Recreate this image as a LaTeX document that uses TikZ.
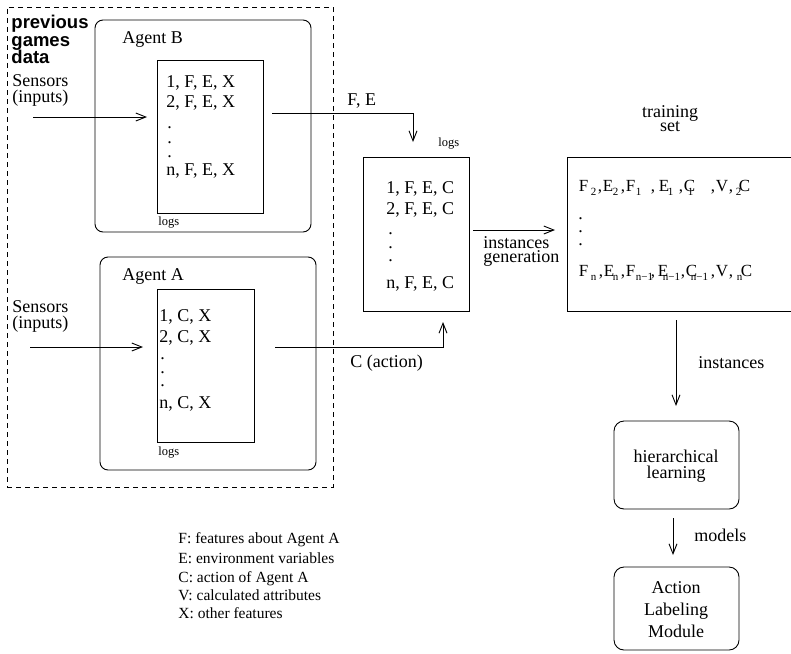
\documentclass[tikz,border=0pt]{standalone}
\usepackage{fontspec}
\setmainfont{Liberation Serif}
\newfontfamily\hvfont{Liberation Sans}
\usetikzlibrary{arrows.meta}
\newcommand\glat[2]{\rlap{\hspace*{#1pt}#2}}
\newcommand\sbx[1]{\raisebox{-4pt}{\fontsize{11}{11}\selectfont #1}}
\newcommand\threedots[2]{\rlap{.}\raisebox{-#1pt}{\rlap{.}}\raisebox{-#2pt}{.}}
\begin{document}
\begin{tikzpicture}[x=1pt,y=-1pt,line width=0.9pt,
  txt/.style={anchor=base west,inner sep=0pt,font=\fontsize{18}{18}\selectfont},
  ctxt/.style={anchor=base,inner sep=0pt,font=\fontsize{18}{18}\selectfont},
  smalltxt/.style={anchor=base west,inner sep=0pt,font=\fontsize{12.5}{12.5}\selectfont},
  legtxt/.style={anchor=base west,inner sep=0pt,font=\fontsize{15.5}{15.5}\selectfont},
  headtxt/.style={anchor=base west,inner sep=0pt,font=\hvfont\bfseries\fontsize{18.5}{18.5}\selectfont},
  rbox/.style={draw,rounded corners=#1,inner sep=0pt},
  sbox/.style={draw,inner sep=0pt},
  arr/.style={-{Straight Barb[length=10pt,width=8pt]}}]
\useasboundingbox (0,0) rectangle (791,653);

% outer dashed region
\node[draw,dash pattern=on 5pt off 4pt,inner sep=0pt,minimum width=326pt,minimum height=480pt] (prev) at (170,247) {};
\node[headtxt] (h1) at (11,28) {previous};
\node[headtxt] (h2) at (11,46) {games};
\node[headtxt] (h3) at (11,63) {data};

% Agent B
\node[rbox=8pt,minimum width=216pt,minimum height=212pt] (agentB) at (203,126) {};
\node[txt] (labB) at (122,43) {Agent B};
\node[sbox,minimum width=106pt,minimum height=153pt] (logsB) at (210,136.5) {};
\node[txt] (b1) at (166,87) {1, F, E, X};
\node[txt] (b2) at (166,107) {2, F, E, X};
\node[txt] (bd) at (167,128) {\threedots{15}{29}};
\node[txt] (bn) at (166,175) {n, F, E, X};
\node[smalltxt] (lgB) at (158,225) {logs};
\node[txt] (sensB1) at (12,86) {Sensors};
\node[txt] (sensB2) at (12,102) {(inputs)};

% Agent A
\node[rbox=8pt,minimum width=216pt,minimum height=213pt] (agentA) at (208,363.5) {};
\node[txt] (labA) at (122,280) {Agent A};
\node[sbox,minimum width=97pt,minimum height=153pt] (logsA) at (205.5,365.5) {};
\node[txt] (a1) at (159,321) {1, C, X};
\node[txt] (a2) at (159,342) {2, C, X};
\node[txt] (ad) at (160,359) {\threedots{14}{27}};
\node[txt] (an) at (159,408) {n, C, X};
\node[smalltxt] (lgA) at (158,455) {logs};
\node[txt] (sensA1) at (12,312) {Sensors};
\node[txt] (sensA2) at (12,328) {(inputs)};

% merged logs
\node[sbox,minimum width=106pt,minimum height=154pt] (logsM) at (416,234) {};
\node[smalltxt] (lgM) at (438,146) {logs};
\node[txt] (m1) at (386,193) {1, F, E, C};
\node[txt] (m2) at (386,214) {2, F, E, C};
\node[txt] (md) at (388,234) {\threedots{14}{27}};
\node[txt] (mn) at (386,288) {n, F, E, C};

% training set (open on the right)
\coordinate (trTR) at (791,157);
\coordinate (trTL) at (567,157);
\coordinate (trBL) at (567,311);
\coordinate (trBR) at (791,311);
\draw (trTR) -- (trTL) -- (trBL) -- (trBR);
\node[ctxt] (tr1) at (670,117) {training};
\node[ctxt] (tr2) at (670,131) {set};
\node[txt,font=\fontsize{17}{17}\selectfont] (r1) at (578,191) {%
\glat{0}{F}\glat{12}{\sbx{2}}\glat{19}{,}\glat{24}{E}\glat{34}{\sbx{2}}\glat{42}{,}%
\glat{47}{F}\glat{57}{\sbx{1}}\glat{72}{,}\glat{80}{E}\glat{89}{\sbx{1}}\glat{100}{,}%
\glat{105}{C}\glat{109}{\sbx{1}}\glat{132}{,}\glat{137}{V}\glat{150}{,}\glat{157}{\sbx{2}}\glat{160}{C}};
\node[txt] (rd) at (578,219) {\threedots{13}{26}};
\node[txt,font=\fontsize{17}{17}\selectfont] (r2) at (578,276) {%
\glat{0}{F}\glat{12}{\sbx{n}}\glat{20}{,}\glat{25}{E}\glat{34}{\sbx{n}}\glat{42}{,}%
\glat{47}{F}\glat{57}{\sbx{n−1}}\glat{72}{,}\glat{79}{E}\glat{84}{\sbx{n−1}}\glat{102}{,}%
\glat{107}{C}\glat{112}{\sbx{n−1}}\glat{132}{,}\glat{137}{V}\glat{150}{,}\glat{158}{\sbx{n}}\glat{162}{C}};

% learning and labeling
\node[rbox=10pt,minimum width=125pt,minimum height=88pt] (hier) at (676.5,465) {};
\node[ctxt] (hl1) at (676,462) {hierarchical};
\node[ctxt] (hl2) at (676,478) {learning};
\node[rbox=10pt,minimum width=125pt,minimum height=83pt] (alm) at (676.5,608.5) {};
\node[ctxt] (al1) at (676,593) {Action};
\node[ctxt] (al2) at (676,615) {Labeling};
\node[ctxt] (al3) at (676,637) {Module};

% connectors
\coordinate (sBs) at (33,117);   \coordinate (sBe) at (147,117);
\coordinate (sAs) at (30,347);   \coordinate (sAe) at (143,347);
\coordinate (oBs) at (272,113);  \coordinate (oBe) at (413,142);
\coordinate (oAs) at (275,347);  \coordinate (oAe) at (443,322);
\coordinate (igs) at (473,230);  \coordinate (ige) at (555,230);
\coordinate (ins) at (676,320);  \coordinate (ine) at (676,406);
\coordinate (mos) at (673,518);  \coordinate (moe) at (673,555);
\draw[arr] (sBs) -- (sBe);
\draw[arr] (sAs) -- (sAe);
\draw[arr] (oBs) -| (oBe);
\draw[arr] (oAs) -| (oAe);
\draw[arr] (igs) -- (ige);
\draw[arr] (ins) -- (ine);
\draw[arr] (mos) -- (moe);

\node[txt] (lFE) at (347,105) {F, E};
\node[txt] (lC) at (350,367) {C (action)};
\node[txt] (lig1) at (483,248) {instances};
\node[txt] (lig2) at (483,262) {generation};
\node[txt] (lins) at (698,368) {instances};
\node[txt] (lmod) at (694,541) {models};

% legend
\node[legtxt] (k1) at (178,543) {F: features about Agent A};
\node[legtxt] (k2) at (178,563) {E: environment variables};
\node[legtxt] (k3) at (178,582) {C: action of Agent A};
\node[legtxt] (k4) at (178,600) {V: calculated attributes};
\node[legtxt] (k5) at (178,618) {X: other features};
\end{tikzpicture}
\end{document}
